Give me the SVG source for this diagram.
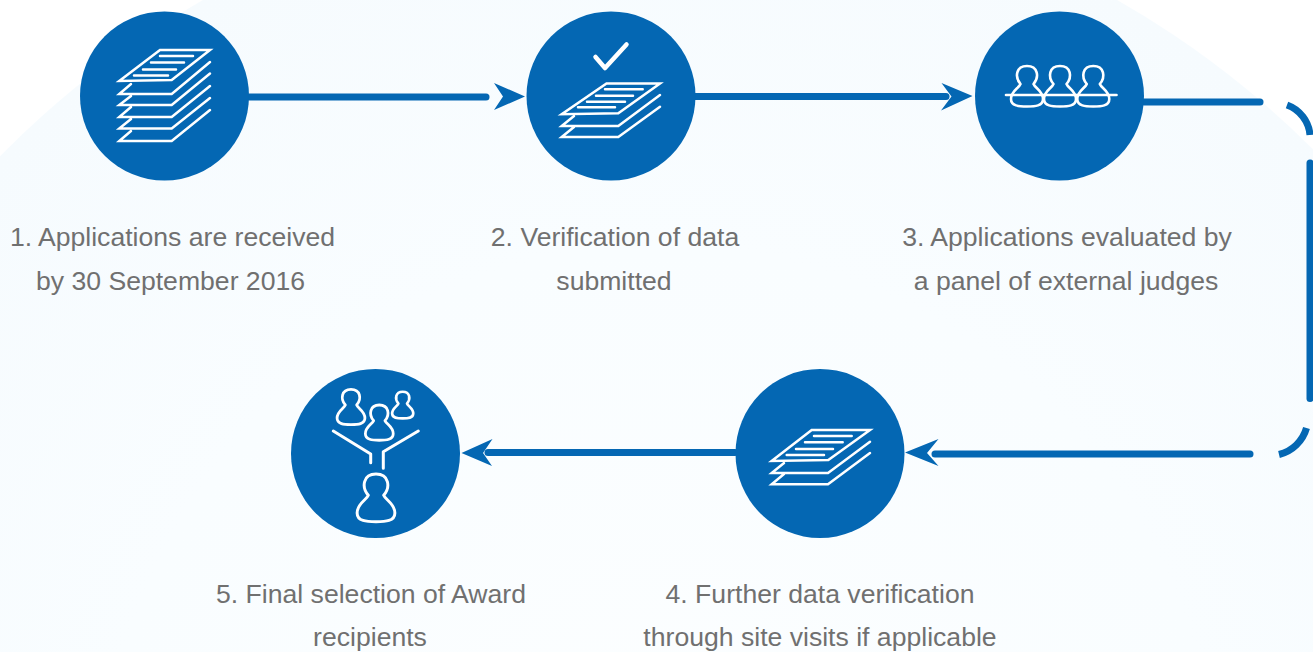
<svg xmlns="http://www.w3.org/2000/svg" width="1313" height="652" viewBox="0 0 1313 652">
<defs>
<radialGradient id="bg" gradientUnits="userSpaceOnUse" cx="660" cy="803" r="924">
<stop offset="0" stop-color="#fcfeff"/><stop offset="0.6" stop-color="#f9fdff"/><stop offset="1" stop-color="#f6fbfe"/>
</radialGradient>
<path id="person" d="M-6.500 18C-12.500 11-11 0 0 0C11 0 12.500 11 6.500 18C8 22 16 25 16 33C16 40 8 40.500 0 40.500C-8 40.500-16 40-16 33C-16 25-8 22-6.500 18Z"/>
</defs>
<style>
.disc{fill:#0467b3}
.ic{fill:none;stroke:#fff;stroke-width:2.500;stroke-linejoin:miter;stroke-linecap:round}
.p{fill:none;stroke:#fff;stroke-width:2.600;stroke-linejoin:round;stroke-linecap:round}
.c{fill:none;stroke:#0467b3;stroke-width:7;stroke-linecap:round}
.a{fill:none;stroke:#0467b3;stroke-width:7;stroke-linecap:butt}
.h{fill:#0467b3}
text{font-family:"Liberation Sans",Arial,sans-serif;font-size:26.600px;fill:#707070;text-anchor:middle}
</style>
<rect width="1313" height="652" fill="#fff"/>
<circle cx="660" cy="803" r="924" fill="url(#bg)"/>
<g id="connectors">
<path class="c" d="M249 97H486"/>
<path class="h" d="M494 83L525 96.500L494 110L503 96.500Z"/>
<path class="c" d="M695 96.500H946"/>
<path class="h" d="M941.500 83L972.500 96L941 110.500L951.500 96.500Z"/>
<path class="c" d="M1144 102H1260"/>
<path class="a" d="M1287 105A35 35 0 0 1 1310 135"/>
<path class="c" d="M1310 163V398.500"/>
<path class="a" d="M1306.500 428A38 38 0 0 1 1279 454.500"/>
<path class="c" d="M1250 454H935"/>
<path class="h" d="M905 452.500L938.500 439L927 453L938.500 466Z"/>
<path class="c" d="M735 452.500H488"/>
<path class="h" d="M461.500 453L492.500 439L483 453L492 466Z"/>
</g>
<g id="node1">
<circle class="disc" cx="164.500" cy="96" r="84.500"/>
<path class="ic" d="M160 50H210L171.700 80L119.300 81Z"/>
<path class="ic" d="M210 62L171.700 94H119.300L131 84M210 73.500L171.700 105H119.300L131 96M210 86L171.700 117H119.300L131 107M210 98L171.700 128.500H119.300L131 119M210 110L171.700 141H119.300L131 131"/>
<path class="ic" d="M160 56H193M151 62.500H184M143 69.500H176M134 75.500H168"/>
<text x="172.500" y="246">1. Applications are received</text>
<text x="170.500" y="289.500">by 30 September 2016</text>
</g>
<g id="node2">
<circle class="disc" cx="611" cy="96" r="84.500"/>
<path fill="none" stroke="#fff" stroke-width="4.500" stroke-linecap="round" stroke-linejoin="round" d="M595.500 57L605 68L626.500 44.500"/>
<path class="ic" d="M606.500 83.500H660L618.300 113.300L561.700 114.300Z"/>
<path class="ic" d="M660 95L618.300 126H561.700L574 116M660 106.700L618.300 137H561.700L574 127"/>
<path class="ic" d="M605 89.300H642.700M596 95.700H633M587 101.700H625M578 107.300H615"/>
<text x="615" y="246">2. Verification of data</text>
<text x="614" y="289.500">submitted</text>
</g>
<g id="node3">
<circle class="disc" cx="1059.500" cy="96" r="84.500"/>
<g class="p">
<use href="#person" transform="translate(1027 66)"/>
<use href="#person" transform="translate(1060 66)"/>
<use href="#person" transform="translate(1093.300 66)"/>
<path d="M1006 95H1116.500"/>
</g>
<text x="1067" y="246">3. Applications evaluated by</text>
<text x="1066" y="289.500">a panel of external judges</text>
</g>
<g id="node4">
<circle class="disc" cx="820" cy="453.500" r="84.500"/>
<path class="ic" d="M811.700 430H870L828.300 460L771.700 461Z"/>
<path class="ic" d="M870 441.700L828 473H771.700L784 463M870 453L828 484.300H771.700L784 474"/>
<path class="ic" d="M814 436H851.700M805 442.300H842.700M796 449H833M786.700 455H824"/>
<text x="820" y="602.500">4. Further data verification</text>
<text x="820" y="646">through site visits if applicable</text>
</g>
<g id="node5">
<circle class="disc" cx="375.500" cy="453.500" r="84.500"/>
<g class="p">
<use href="#person" transform="translate(351 389.300) scale(.87)" style="stroke-width:3.200"/>
<use href="#person" transform="translate(402.700 391.700) scale(.66)" style="stroke-width:4"/>
<use href="#person" transform="translate(379.300 405) scale(.87)" style="stroke-width:3.200"/>
<use href="#person" transform="translate(376 474) scale(1.180)" style="stroke-width:2.500"/>
<path d="M333.300 431L370.700 454V462.700M418.300 431L383.300 451.700V468.300" style="stroke-width:3"/>
</g>
<text x="371" y="602.500">5. Final selection of Award</text>
<text x="370" y="646">recipients</text>
</g>
</svg>
